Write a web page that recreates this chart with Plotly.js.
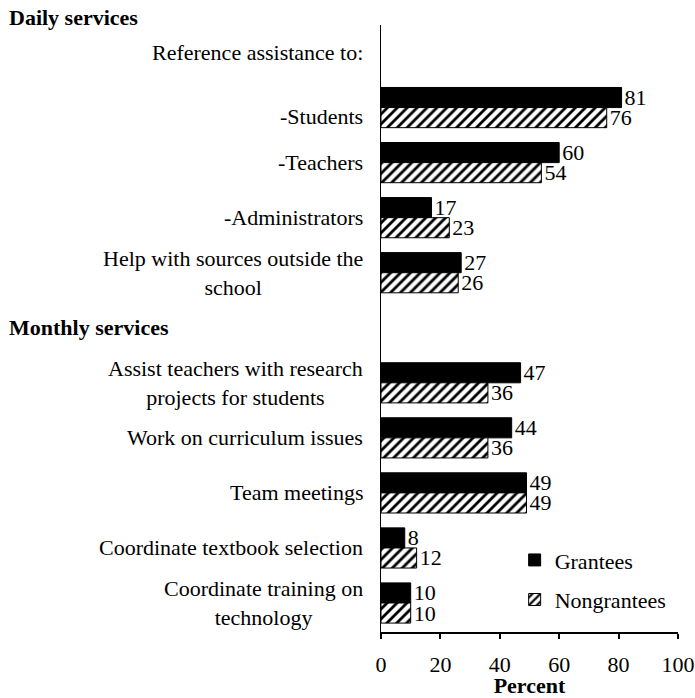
<!DOCTYPE html>
<html>
<head>
<meta charset="utf-8">
<script src="https://cdn.plot.ly/plotly-3.0.1.min.js"></script>
<style>html,body{margin:0;padding:0;background:#fff;font-family:'Liberation Serif';}</style>
</head>
<body>
<div id="chart" style="width:695px;height:698px;font-family:'Liberation Serif';"></div>
<script>
const categories = [
  "Reference assistance to:",
  "-Students",
  "-Teachers",
  "-Administrators",
  "Help with sources outside the<br>school",
  "Monthly services",
  "Assist teachers with research<br>projects for students",
  "Work on curriculum issues",
  "Team meetings",
  "Coordinate textbook selection",
  "Coordinate training on<br>technology"
];
const sectionRows = ["Monthly services"];
const topHeading = "Daily services";
const grantees    = [null, 81, 60, 17, 27, null, 47, 44, 49, 8, 10];
const nongrantees = [null, 76, 54, 23, 26, null, 36, 36, 49, 12, 10];
const seriesNames = ["Grantees", "Nongrantees"];
const xTicks = [0, 20, 40, 60, 80, 100];
const xTitle = "Percent";

const FONT = "Liberation Serif";
const FS = 22;
const lbl = v => v == null ? "" : String(v);
const f = () => ({family: FONT, size: FS, color: "#000"});

const common = {
  type: "bar", orientation: "h", y: categories,
  textposition: "outside", cliponaxis: false, constraintext: "none",
  textfont: f(), outsidetextfont: f(),
  hoverinfo: "skip"
};
const traces = [
  Object.assign({}, common, {
    name: seriesNames[0], x: grantees, text: grantees.map(lbl), legendgroup: "g1",
    marker: {color: "#000", line: {color: "#000", width: 1}}
  }),
  Object.assign({}, common, {
    name: seriesNames[1], x: nongrantees, text: nongrantees.map(lbl), legendgroup: "g2",
    marker: {color: "#fff", line: {color: "#000", width: 1},
      pattern: {shape: "/", fgcolor: "#000", bgcolor: "#fff", size: 7, solidity: 0.4}}
  })
];

const annotations = [];
categories.forEach((c, i) => {
  if (sectionRows.includes(c)) {
    annotations.push({xref: "paper", yref: "y", x: -1.259, y: c, xanchor: "left", yanchor: "middle",
      text: "<b>" + c + "</b>", showarrow: false, align: "left", font: f()});
  } else {
    annotations.push({xref: "paper", yref: "y", x: 0, xshift: -16, y: c, yshift: (i === 1 ? -9 : 0),
      xanchor: "right", yanchor: "middle",
      text: c, showarrow: false, align: "center", font: f()});
  }
});
annotations.push({xref: "paper", yref: "paper", x: -1.259, y: 1.013, xanchor: "left", yanchor: "middle",
  text: "<b>" + topHeading + "</b>", showarrow: false, font: f()});

const layout = {
  width: 695, height: 698,
  margin: {l: 381, r: 17, t: 25, b: 66, pad: 0},
  paper_bgcolor: "#fff", plot_bgcolor: "#fff",
  barmode: "group", bargap: 0.27, bargroupgap: 0,
  showlegend: true,
  legend: {x: 0.45, y: 0.153, xanchor: "left", yanchor: "top", bgcolor: "rgba(0,0,0,0)",
    font: f(), traceorder: "grouped", tracegroupgap: 8},
  xaxis: {range: [0, 100], tickvals: xTicks, ticktext: xTicks.map(String),
    showgrid: false, zeroline: false, showline: true, linecolor: "#000", linewidth: 1.5,
    ticks: "outside", ticklen: 5, tickwidth: 2, tickcolor: "#000", ticklabelstandoff: 7,
    tickfont: f(),
    title: {text: "<b>" + xTitle + "</b>", standoff: 0, font: f()},
    automargin: false},
  yaxis: {type: "category", categoryarray: categories, autorange: "reversed",
    showticklabels: false, ticks: "", showgrid: false, zeroline: false,
    showline: true, linecolor: "#000", linewidth: 1.5, automargin: false},
  annotations: annotations
};
Plotly.newPlot("chart", traces, layout, {displayModeBar: false, staticPlot: true});
</script>
</body>
</html>
